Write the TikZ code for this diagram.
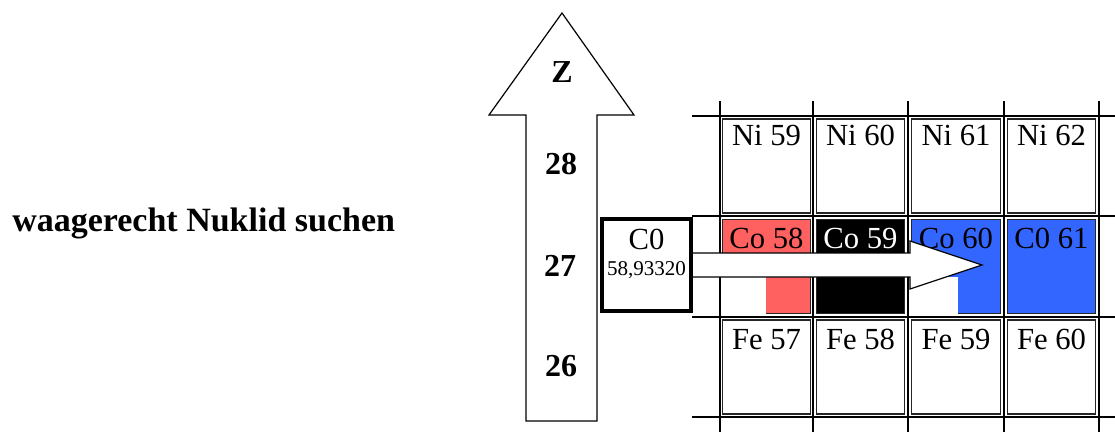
\documentclass[tikz,border=0pt]{standalone}
\usepackage{fontspec}
\setmainfont{Liberation Serif}
\usepackage{xcolor}
\definecolor{nukred}{RGB}{255, 96, 96}
\definecolor{nukblue}{RGB}{51, 102, 255}
\usetikzlibrary{positioning}

\begin{document}
\begin{tikzpicture}[
    x=0.75pt, y=-0.75pt,
    gridline/.style={line width=1.6pt},
    cell/.style={draw=black!85, line width=0.8pt, minimum width=66.5pt, minimum height=70.5pt, inner sep=0pt},
    celltext/.style={font=\fontsize{23}{26}\selectfont, inner sep=0pt},
    zlabel/.style={font=\fontsize{24}{28}\selectfont\bfseries, inner sep=0pt}
]
\useasboundingbox (0,0) rectangle (1115,432);

% Beschriftung links
\node[font=\fontsize{25.5}{30}\selectfont\bfseries, anchor=west, inner sep=0pt] (title) at (12,223) {waagerecht Nuklid suchen};

% Gitter der Nuklidkarte
\draw[gridline] (692,116) -- (1115,116);
\draw[gridline] (692,216) -- (1115,216);
\draw[gridline] (692,317) -- (1115,317);
\draw[gridline] (692,417) -- (1115,417);
\draw[gridline] (720,101) -- (720,432);
\draw[gridline] (813,101) -- (813,432);
\draw[gridline] (908,101) -- (908,432);
\draw[gridline] (1004,101) -- (1004,432);
\draw[gridline] (1099,101) -- (1099,432);

% Z = 28
\node[cell, fill=white] (ni59) at (766.5,166) {};
\node[cell, fill=white] (ni60) at (860.5,166) {};
\node[cell, fill=white] (ni61) at (956,166) {};
\node[cell, fill=white] (ni62) at (1051.5,166) {};

% Z = 27
\node[cell, fill=nukred] (co58) at (766.5,266.5) {};
\node[cell, fill=black] (co59) at (860.5,266.5) {};
\node[cell, fill=nukblue] (co60) at (956,266.5) {};
\node[cell, fill=nukblue] (co61) at (1051.5,266.5) {};
\fill[white] (co58.west |- 0,277) rectangle (766,313.5);
\fill[white] (co60.west |- 0,277) rectangle (958,313.5);

% Z = 26
\node[cell, fill=white] (fe57) at (766.5,367) {};
\node[cell, fill=white] (fe58) at (860.5,367) {};
\node[cell, fill=white] (fe59) at (956,367) {};
\node[cell, fill=white] (fe60) at (1051.5,367) {};

% Namen der Nuklide
\node[celltext, below=5pt of ni59.north] (ni59t) {Ni 59};
\node[celltext, below=5pt of ni60.north] (ni60t) {Ni 60};
\node[celltext, below=5pt of ni61.north] (ni61t) {Ni 61};
\node[celltext, below=5pt of ni62.north] (ni62t) {Ni 62};
\node[celltext, below=7pt of co58.north] (co58t) {Co 58};
\node[celltext, below=7pt of co59.north, text=white] (co59t) {Co 59};
\node[celltext, below=7pt of co60.north] (co60t) {Co 60};
\node[celltext, below=7pt of co61.north] (co61t) {C0 61};
\node[celltext, below=7pt of fe57.north] (fe57t) {Fe 57};
\node[celltext, below=7pt of fe58.north] (fe58t) {Fe 58};
\node[celltext, below=7pt of fe59.north] (fe59t) {Fe 59};
\node[celltext, below=7pt of fe60.north] (fe60t) {Fe 60};

% Element mit Atommasse
\node[draw, line width=3pt, fill=white, minimum width=67pt, minimum height=69pt, inner sep=0pt] (cobalt) at (646.5,265) {};
\node[celltext, below=9pt of cobalt.north] (cobaltname) {C0};
\node[font=\fontsize{15.8}{18}\selectfont, inner sep=0pt, below=8pt of cobaltname] (cobaltmass) {58,93320};

% Pfeil fuer die Ordnungszahl
\draw[line width=0.9pt, fill=white]
    (562,13) -- (634,115) -- (597,115) -- (597,421) -- (526,421) -- (526,115) -- (489,115) -- cycle;
\node[zlabel] (zname) at (562,72) {Z};
\node[zlabel] (z28) at (561,164) {28};
\node[zlabel] (z27) at (560,266) {27};
\node[zlabel] (z26) at (561,366) {26};

% waagerechter Suchpfeil
\draw[line width=0.9pt, fill=white]
    (cobalt.east |- 0,253) -- (910,253) -- (910,241) -- (982,265) -- (910,289) -- (910,277) -- (cobalt.east |- 0,277);

\end{tikzpicture}
\end{document}
